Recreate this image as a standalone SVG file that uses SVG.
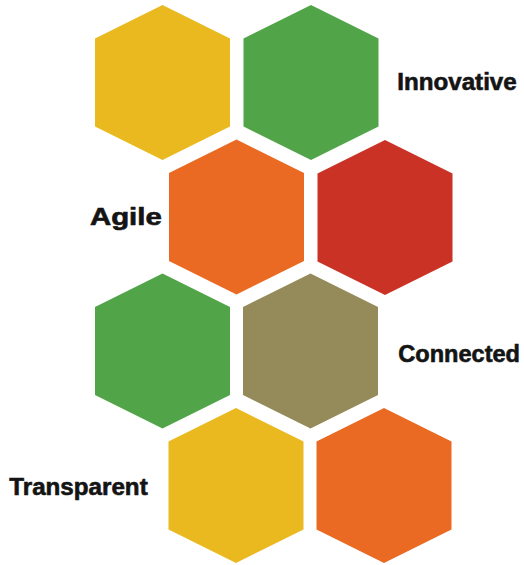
<svg xmlns="http://www.w3.org/2000/svg" xmlns:xlink="http://www.w3.org/1999/xlink" width="524" height="565" viewBox="0 0 524 565">
<style>
.lbl{font-family:"Liberation Sans",Arial,sans-serif;font-weight:bold;font-size:23px;fill:#141414;stroke:#141414;stroke-width:0.6}
</style>
<defs>
<polygon id="hex" points="0,-77.5 67.5,-44 67.5,44 0,77.5 -67.5,44 -67.5,-44"/>
</defs>
<rect width="524" height="565" fill="#ffffff"/>
<g id="connectors"></g>
<g id="hex-yellow-1"><use xlink:href="#hex" href="#hex" x="162.5" y="82.5" fill="#EAB91F"/></g>
<g id="hex-green-1"><use xlink:href="#hex" href="#hex" x="311" y="82.5" fill="#51A548"/></g>
<g id="hex-orange-1"><use xlink:href="#hex" href="#hex" x="236.5" y="217" fill="#EB6A23"/></g>
<g id="hex-red"><use xlink:href="#hex" href="#hex" x="385" y="217.5" fill="#CB3226"/></g>
<g id="hex-green-2"><use xlink:href="#hex" href="#hex" x="162.5" y="351" fill="#51A548"/></g>
<g id="hex-olive"><use xlink:href="#hex" href="#hex" x="310.5" y="351" fill="#958A59"/></g>
<g id="hex-yellow-2"><use xlink:href="#hex" href="#hex" x="236" y="485.5" fill="#EAB91F"/></g>
<g id="hex-orange-2"><use xlink:href="#hex" href="#hex" x="384" y="485.5" fill="#EB6A23"/></g>
<g id="label-innovative"><text class="lbl" x="397.3" y="89.5" textLength="119.4" lengthAdjust="spacingAndGlyphs">Innovative</text></g>
<g id="label-agile"><text class="lbl" x="90" y="224.5" textLength="71.7" lengthAdjust="spacingAndGlyphs">Agile</text></g>
<g id="label-connected"><text class="lbl" x="398.3" y="361.5" textLength="121.7" lengthAdjust="spacingAndGlyphs">Connected</text></g>
<g id="label-transparent"><text class="lbl" x="9.3" y="495" textLength="138.4" lengthAdjust="spacingAndGlyphs">Transparent</text></g>
</svg>
